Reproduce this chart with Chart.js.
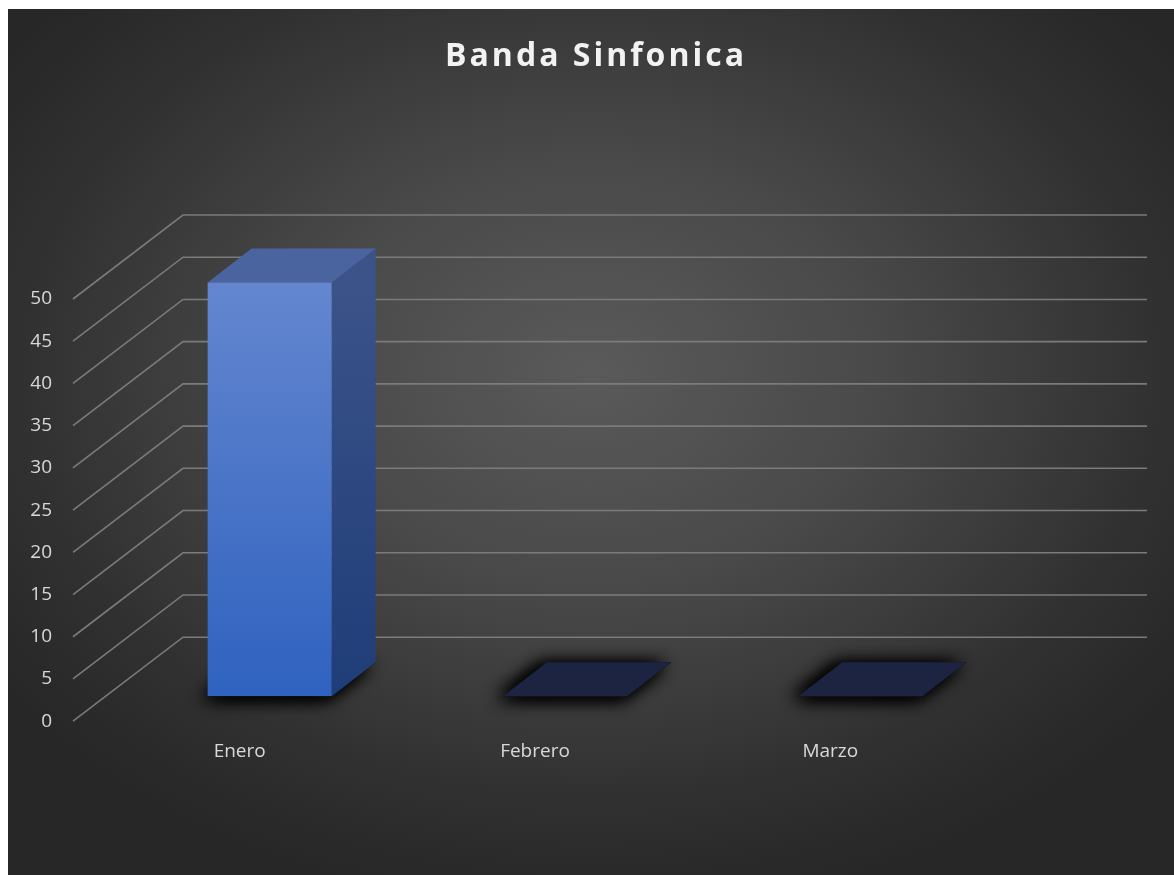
<!DOCTYPE html>
<html>
<head>
<meta charset="utf-8">
<script src="https://cdn.jsdelivr.net/npm/chart.js@4"></script>
<style>
    html, body { margin: 0; background: #ffffff; }
    #box {
        position: absolute; left: 8px; top: 9px; width: 1166px; height: 866px;
        background: radial-gradient(ellipse 62% 62% at 50% 42%, #5a5a5a 0%, #494949 40%, #303030 80%, #272727 100%);
    }
</style>
</head>
<body>
<div id="box"><canvas id="chart"></canvas></div>
<script>
// data
const categories = ["Enero", "Febrero", "Marzo"];
const values = [49, 0, 0];
const yTickValues = [0, 5, 10, 15, 20, 25, 30, 35, 40, 45, 50];
const titleText = "Banda Sinfonica";

// fake 3D geometry
const FRONT = { dx: 30, dy: -25 };   // bar front plane, relative to the axis plane
const DEPTH = { dx: 44, dy: -34 };   // bar depth
const WALL = { start: -19, dx: 110, dy: -84, endInset: 27 };

function quad(ctx, pts) {
    ctx.beginPath();
    ctx.moveTo(pts[0], pts[1]);
    for (let i = 2; i < pts.length; i += 2) ctx.lineTo(pts[i], pts[i + 1]);
    ctx.closePath();
    ctx.fill();
}

const box3d = {
    id: "box3d",
    beforeDatasetsDraw(chart) {
        const ctx = chart.ctx, area = chart.chartArea, y = chart.scales.y;
        ctx.save();
        // floor-to-wall grid lines
        ctx.strokeStyle = "#7b7b7b";
        ctx.lineWidth = 1.6;
        y.ticks.forEach(t => {
            const py = y.getPixelForValue(t.value);
            const x0 = area.left + WALL.start;
            ctx.beginPath();
            ctx.moveTo(x0, py);
            ctx.lineTo(x0 + WALL.dx, py + WALL.dy);
            ctx.lineTo(chart.width - WALL.endInset, py + WALL.dy);
            ctx.stroke();
        });

        chart.getDatasetMeta(0).data.forEach((bar, i) => {
            const p = bar.getProps(["x", "y", "base", "width"], true);
            const l = p.x - p.width / 2 + FRONT.dx, r = p.x + p.width / 2 + FRONT.dx;
            const top = p.y + FRONT.dy, bot = p.base + FRONT.dy;
            const foot = [l, bot, r, bot, r + DEPTH.dx, bot + DEPTH.dy, l + DEPTH.dx, bot + DEPTH.dy];

            // soft shadow on the floor (blur only, footprint itself is covered)
            ctx.save();
            ctx.shadowColor = "rgba(0,0,0,0.85)";
            ctx.shadowBlur = 17;
            ctx.shadowOffsetX = -5;
            ctx.shadowOffsetY = 2;
            ctx.fillStyle = "#141414";
            for (let k = 0; k < 3; k++) quad(ctx, foot);
            ctx.restore();

            if (values[i] > 0) {
                const g = ctx.createLinearGradient(0, top, 0, bot);
                g.addColorStop(0, "#3b5389");
                g.addColorStop(1, "#1f3d78");
                ctx.fillStyle = g;
                quad(ctx, [r, top, r + DEPTH.dx, top + DEPTH.dy, r + DEPTH.dx, bot + DEPTH.dy, r, bot]);
            }
            ctx.fillStyle = values[i] > 0 ? "#4a64a0" : "#1c2441";
            quad(ctx, [l, top, r, top, r + DEPTH.dx, top + DEPTH.dy, l + DEPTH.dx, top + DEPTH.dy]);
        });
        ctx.restore();

        // front faces are drawn by Chart.js on the shifted plane
        ctx.save();
        ctx.translate(FRONT.dx, FRONT.dy);
    },
    afterDatasetsDraw(chart) {
        chart.ctx.restore();
    },
    afterDraw(chart) {
        const ctx = chart.ctx;
        ctx.save();
        ctx.font = "bold 32px 'Open Sans'";
        ctx.letterSpacing = "3px";
        ctx.fillStyle = "#f2f2f2";
        ctx.textAlign = "center";
        ctx.textBaseline = "middle";
        ctx.fillText(titleText, chart.width / 2 + 5, 48);
        ctx.restore();
    }
};

Chart.defaults.font.family = "'Open Sans', sans-serif";

new Chart(document.getElementById("chart"), {
    type: "bar",
    data: {
        labels: categories,
        datasets: [{
            data: values,
            backgroundColor: function (c) {
                const a = c.chart.chartArea;
                if (!a) return "#4472c4";
                const g = c.chart.ctx.createLinearGradient(0, a.top, 0, a.bottom);
                g.addColorStop(0, "#6587d0");
                g.addColorStop(1, "#2f62bf");
                return g;
            },
            borderWidth: 0,
            barPercentage: 0.42,
            categoryPercentage: 1
        }]
    },
    options: {
        responsive: true,
        maintainAspectRatio: false,
        animation: false,
        layout: { padding: { top: 290, right: 196, bottom: 93, left: 0 } },
        plugins: {
            legend: { display: false },
            tooltip: { enabled: false },
            title: { display: false }
        },
        scales: {
            x: {
                grid: { display: false, drawTicks: false },
                border: { display: false },
                ticks: { color: "#d9d9d9", font: { size: 19 }, padding: 19 }
            },
            y: {
                min: 0,
                max: 50,
                afterBuildTicks: s => { s.ticks = yTickValues.map(v => ({ value: v })); },
                afterFit: s => { s.width = 84; },
                grid: { display: false, drawTicks: false },
                border: { display: false },
                ticks: { color: "#d9d9d9", font: { size: 19 }, padding: 40 }
            }
        }
    },
    plugins: [box3d]
});
</script>
</body>
</html>
